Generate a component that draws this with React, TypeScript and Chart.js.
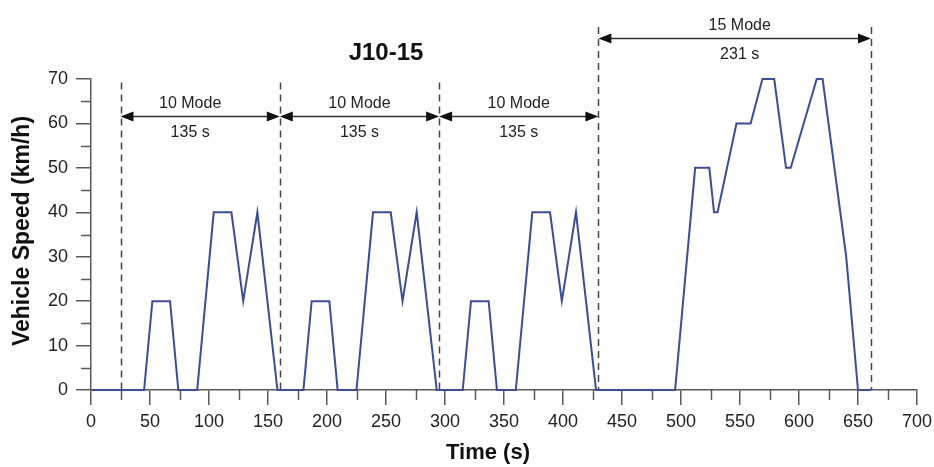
import React, { useEffect, useRef } from 'react';
import { Chart, registerables } from 'chart.js';

Chart.register(...registerables);

// ---- Data ----
const timeS = [
  0, 45, 52, 67, 74, 90, 104, 119, 129, 141, 158,
  180, 187, 202, 209, 225, 239, 254, 264, 276, 293,
  315, 322, 337, 344, 360, 374, 389, 399, 411, 428,
  495, 512, 524, 528, 531, 547, 559, 569, 579, 589, 593, 615, 620, 640, 650, 661,
];
const speedKmh = [
  0, 0, 20, 20, 0, 0, 40, 40, 20, 40, 0,
  0, 20, 20, 0, 0, 40, 40, 20, 40, 0,
  0, 20, 20, 0, 0, 40, 40, 20, 40, 0,
  0, 50, 50, 40, 40, 60, 60, 70, 70, 50, 50, 70, 70, 30, 0, 0,
];
const modeBounds = [25, 160, 295, 430, 661];
const modeNames = ['10 Mode', '10 Mode', '10 Mode', '15 Mode'];
const modeDurations = ['135 s', '135 s', '135 s', '231 s'];
const chartTitle = 'J10-15';
const xTitle = 'Time (s)';
const yTitle = 'Vehicle Speed (km/h)';

// ---- Styles ----
const FONT = '"Liberation Sans", Arial, Helvetica, sans-serif';
const LINE_COLOR = '#3d4c98';
const AXIS_COLOR = '#5a5a5a';
const labelNudge = [-10, 0, 0, 5];

const overlayPlugin = {
  id: 'overlay',
  beforeDatasetsDraw(chart: any) {
    const { ctx, chartArea } = chart;
    const xs = chart.scales.x;
    const ys = chart.scales.y;
    ctx.save();
    // minor ticks
    ctx.strokeStyle = AXIS_COLOR;
    ctx.lineWidth = 1.5;
    ctx.beginPath();
    for (let v = 25; v < 700; v += 50) {
      const px = Math.round(xs.getPixelForValue(v)) + 0.5;
      ctx.moveTo(px, chartArea.bottom);
      ctx.lineTo(px, chartArea.bottom + 10);
    }
    for (let v = 5; v < 70; v += 10) {
      const py = Math.round(ys.getPixelForValue(v)) + 0.5;
      ctx.moveTo(chartArea.left, py);
      ctx.lineTo(chartArea.left - 10, py);
    }
    ctx.stroke();
    // dashed mode boundaries
    ctx.strokeStyle = '#444';
    ctx.lineWidth = 1.5;
    ctx.setLineDash([7, 5]);
    modeBounds.forEach((t, i) => {
      const px = Math.round(xs.getPixelForValue(t)) + 0.5;
      const top = i >= 3 ? chartArea.top - 52 : ys.getPixelForValue(69.2);
      ctx.beginPath();
      ctx.moveTo(px, top);
      ctx.lineTo(px, chartArea.bottom);
      ctx.stroke();
    });
    ctx.restore();
  },
  afterDraw(chart: any) {
    const { ctx, chartArea } = chart;
    const xs = chart.scales.x;
    const ys = chart.scales.y;
    ctx.save();
    // arrows & labels
    for (let i = 0; i < modeNames.length; i++) {
      const x1 = xs.getPixelForValue(modeBounds[i]);
      const x2 = xs.getPixelForValue(modeBounds[i + 1]);
      const y = i < 3 ? Math.round(ys.getPixelForValue(61.7)) + 0.5 : chartArea.top - 40.5;
      const hl = 13;
      const hw = 5;
      ctx.strokeStyle = '#333';
      ctx.lineWidth = 1.5;
      ctx.beginPath();
      ctx.moveTo(x1 + hl - 1, y);
      ctx.lineTo(x2 - hl + 1, y);
      ctx.stroke();
      ctx.fillStyle = '#111';
      ctx.beginPath();
      ctx.moveTo(x1, y);
      ctx.lineTo(x1 + hl, y - hw);
      ctx.lineTo(x1 + hl, y + hw);
      ctx.closePath();
      ctx.fill();
      ctx.beginPath();
      ctx.moveTo(x2, y);
      ctx.lineTo(x2 - hl, y - hw);
      ctx.lineTo(x2 - hl, y + hw);
      ctx.closePath();
      ctx.fill();
      const cx = (x1 + x2) / 2 + labelNudge[i];
      ctx.fillStyle = '#222';
      ctx.font = `16px ${FONT}`;
      ctx.textAlign = 'center';
      ctx.textBaseline = 'middle';
      ctx.fillText(modeNames[i], cx, y - 13);
      ctx.fillText(modeDurations[i], cx, y + 16);
    }
    // titles
    ctx.fillStyle = '#111';
    ctx.textAlign = 'center';
    ctx.textBaseline = 'middle';
    ctx.font = `bold 24px ${FONT}`;
    ctx.fillText(chartTitle, 386, chartArea.top - 26);
    ctx.font = `bold 22px ${FONT}`;
    ctx.fillText(xTitle, 488, chartArea.bottom + 63);
    ctx.save();
    ctx.font = `bold 23px ${FONT}`;
    ctx.translate(23, 231);
    ctx.rotate(-Math.PI / 2);
    ctx.fillText(yTitle, 0, 0);
    ctx.restore();
    ctx.restore();
  },
};

export default function App() {
  const canvasRef = useRef<HTMLCanvasElement | null>(null);

  useEffect(() => {
    if (!canvasRef.current) return;
    const points = timeS.map((t, i) => ({ x: t, y: speedKmh[i] }));
    const chart = new Chart(canvasRef.current, {
      type: 'line',
      data: {
        datasets: [
          {
            data: points,
            borderColor: LINE_COLOR,
            borderWidth: 2,
            pointRadius: 0,
            tension: 0,
            fill: false,
            clip: false,
          } as any,
        ],
      },
      options: {
        responsive: false,
        animation: false,
        events: [],
        layout: { padding: { top: 79, right: 17, left: 0, bottom: 0 } },
        plugins: { legend: { display: false }, tooltip: { enabled: false }, title: { display: false } },
        scales: {
          x: {
            type: 'linear',
            min: 0,
            max: 700,
            afterFit: (s: any) => { s.height = 77; s.paddingRight = 0; s.paddingLeft = 0; },
            ticks: {
              stepSize: 50,
              padding: 6,
              color: '#222',
              font: { family: FONT, size: 18 },
              maxRotation: 0,
              autoSkip: false,
            },
            grid: { drawOnChartArea: false, tickLength: 15, color: AXIS_COLOR, lineWidth: 1.5 },
            border: { display: true, color: AXIS_COLOR, width: 1.5 },
          },
          y: {
            type: 'linear',
            min: 0,
            max: 70,
            afterFit: (s: any) => { s.width = 91; s.paddingTop = 0; s.paddingBottom = 0; },
            ticks: {
              stepSize: 10,
              padding: 8,
              color: '#222',
              font: { family: FONT, size: 18 },
            },
            grid: { drawOnChartArea: false, tickLength: 15, color: AXIS_COLOR, lineWidth: 1.5 },
            border: { display: true, color: AXIS_COLOR, width: 1.5 },
          },
        },
      },
      plugins: [overlayPlugin],
    });
    return () => chart.destroy();
  }, []);

  return (
    <div style={{ position: 'fixed', left: 0, top: 0, width: 934, height: 467, background: '#fff' }}>
      <canvas ref={canvasRef} width={934} height={467} />
    </div>
  );
}
